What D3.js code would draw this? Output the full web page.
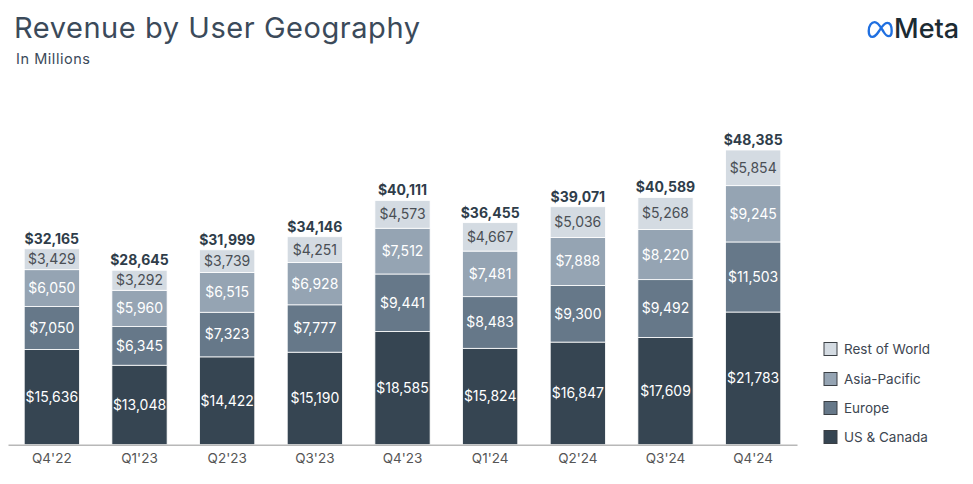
<!DOCTYPE html>
<html><head><meta charset="utf-8">
<script src="https://cdn.jsdelivr.net/npm/d3@7"></script>
<style>
body{margin:0;background:#fff;}
svg{display:block;font-family:Inter,"Open Sans",sans-serif;}
</style></head>
<body><svg id="c" width="973" height="484"></svg>
<script>
const quarters = ["Q4'22","Q1'23","Q2'23","Q3'23","Q4'23","Q1'24","Q2'24","Q3'24","Q4'24"];
const usCanada = [15636,13048,14422,15190,18585,15824,16847,17609,21783];
const europe = [7050,6345,7323,7777,9441,8483,9300,9492,11503];
const asiaPacific = [6050,5960,6515,6928,7512,7481,7888,8220,9245];
const restOfWorld = [3429,3292,3739,4251,4573,4667,5036,5268,5854];
const totals = [32165,28645,31999,34146,40111,36455,39071,40589,48385];
const seriesNames = ["US & Canada","Europe","Asia-Pacific","Rest of World"];
const colors = ["#364552","#667889","#95a4b3","#d4dbe2"];
const labelColors = ["#ffffff","#ffffff","#ffffff","#4a4f55"];

const svg = d3.select("#c");
const rows = quarters.map((q,i)=>({q, "US & Canada":usCanada[i], "Europe":europe[i], "Asia-Pacific":asiaPacific[i], "Rest of World":restOfWorld[i], total:totals[i]}));
const stack = d3.stack().keys(seriesNames)(rows);

const x = d3.scaleBand().domain(quarters).range([8,797]).paddingInner(0.37).paddingOuter(0.185);
const y = d3.scaleLinear().domain([0,48385]).range([444.7,150]);

// title
svg.append("text").attr("x",14).attr("y",38).attr("font-size",29).attr("fill","#3b4a5a")
  .attr("textLength",406).attr("lengthAdjust","spacing").text("Revenue by User Geography");
svg.append("text").attr("x",16).attr("y",64).attr("font-size",14.5).attr("fill","#3b4a5a")
  .attr("textLength",74).attr("lengthAdjust","spacing").text("In Millions");

// Meta logo
const logo = svg.append("g").attr("transform","translate(868,31)");
logo.append("path")
  .attr("d","M2,2 C2,-6 6,-10 10,-10 C15,-10 18,-3 22,3 C25,8 27,9 29,9 C32,9 33,6 33,2 C33,-4 31,-9 27,-9 C23,-9 19,-3 16,2 C12,8 9,10 7,10 C4,10 2,7 2,2 Z")
  .attr("fill","none").attr("stroke","#1f6fe0").attr("stroke-width",3.2).attr("transform","scale(0.74) translate(-1,-2)");
svg.append("text").attr("x",894).attr("y",38).attr("font-size",27).attr("font-weight",500).attr("fill","#1c2b33")
  .text("Meta");

// bars
const g = svg.append("g");
stack.forEach((s,si)=>{
  g.selectAll(null).data(s).join("rect")
    .attr("x",d=>x(d.data.q)).attr("width",x.bandwidth())
    .attr("y",d=>y(d[1])).attr("height",d=>y(d[0])-y(d[1]))
    .attr("fill",colors[si]).attr("stroke","#fff").attr("stroke-width",0.8);
  g.selectAll(null).data(s).join("text")
    .attr("x",d=>x(d.data.q)+x.bandwidth()/2)
    .attr("y",d=>(y(d[0])+y(d[1]))/2)
    .attr("dy","0.35em").attr("text-anchor","middle")
    .attr("font-size",14).attr("fill",labelColors[si])
    .text(d=>"$"+d3.format(",")(d[1]-d[0]));
});
// totals
g.selectAll(null).data(rows).join("text")
  .attr("x",d=>x(d.q)+x.bandwidth()/2).attr("y",d=>y(d.total)-5)
  .attr("text-anchor","middle").attr("font-size",14).attr("font-weight",700).attr("fill","#2f3d4a")
  .text(d=>"$"+d3.format(",")(d.total));

// axis
const ax = svg.append("g").attr("transform","translate(0,444.7)").call(d3.axisBottom(x).tickSize(0).tickPadding(9));
ax.select(".domain").attr("stroke","#b8b8b8").attr("stroke-width",1.5);
ax.selectAll("text").attr("font-size",13.5).attr("fill","#555").attr("font-family","Inter,'Open Sans',sans-serif");

// legend
const leg = svg.append("g").attr("transform","translate(824,0)");
const legOrder = [3,2,1,0];
const legY = [349,379,408,437];
legOrder.forEach((si,k)=>{
  leg.append("rect").attr("x",0).attr("y",legY[k]-6.5).attr("width",13).attr("height",13)
    .attr("fill",colors[si]).attr("stroke","#3a3f44").attr("stroke-width",1);
  leg.append("text").attr("x",20).attr("y",legY[k]).attr("dy","0.35em").attr("font-size",13.5).attr("fill","#3d4651").text(seriesNames[si]);
});
</script></body></html>
